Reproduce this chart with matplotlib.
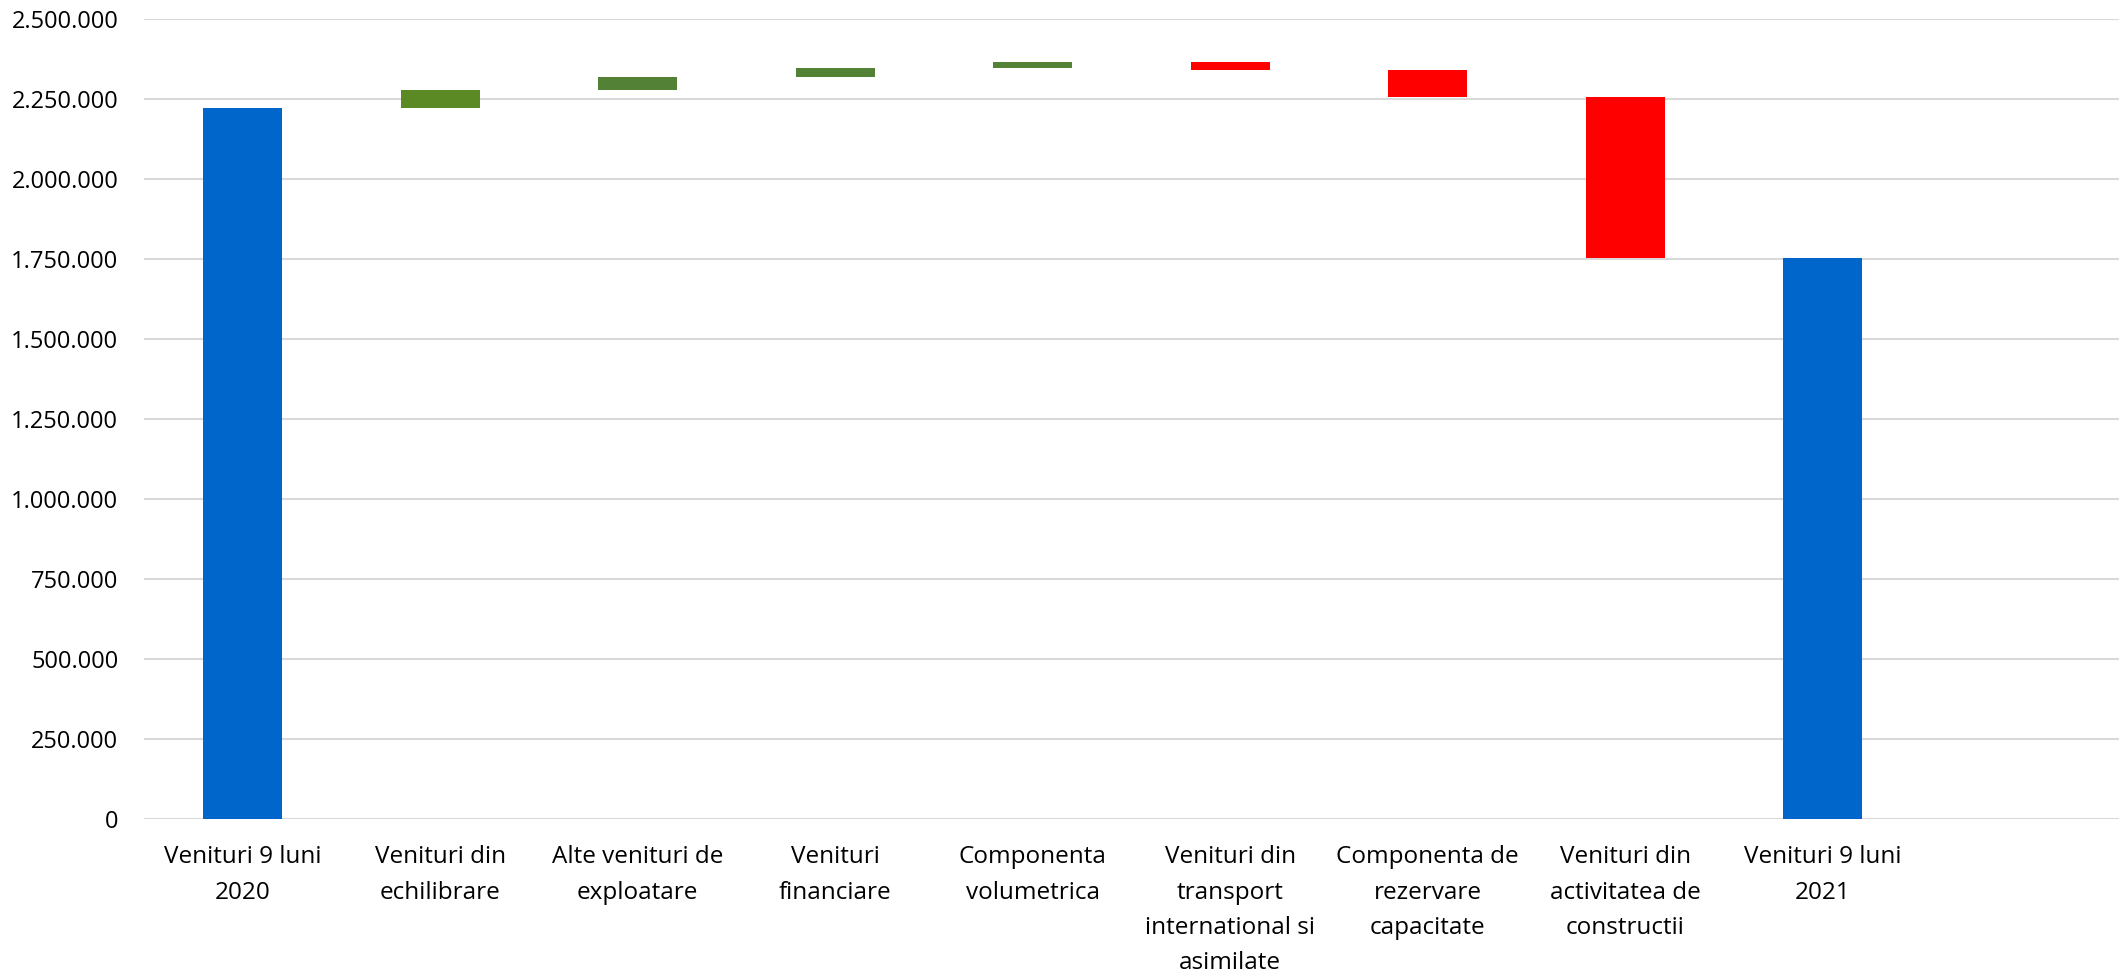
import matplotlib
matplotlib.use("Agg")
import matplotlib.pyplot as plt
from matplotlib.ticker import FuncFormatter

# ---- data ----
categories = [
    "Venituri 9 luni\n2020",
    "Venituri din\nechilibrare",
    "Alte venituri de\nexploatare",
    "Venituri\nfinanciare",
    "Componenta\nvolumetrica",
    "Venituri din\ntransport\ninternational si\nasimilate",
    "Componenta de\nrezervare\ncapacitate",
    "Venituri din\nactivitatea de\nconstructii",
    "Venituri 9 luni\n2021",
    "",
]
start_total = 2222000
changes = [56000, 41000, 28000, 19000, -25000, -85000, -502000]
end_total = 1754000
y_ticks = [0, 250000, 500000, 750000, 1000000, 1250000, 1500000, 1750000, 2000000, 2250000, 2500000]

# ---- styling ----
BLUE = "#0066CC"
GREEN_FIRST = "#5B8A24"
GREEN = "#538135"
RED = "#FF0000"
GRID = "#D9D9D9"

plt.rcParams["font.family"] = ["Open Sans", "DejaVu Sans"]

W, H, DPI = 2119, 977, 100
fig = plt.figure(figsize=(W / DPI, H / DPI), dpi=DPI)
ax = fig.add_axes([144 / W, 1 - 819 / H, (W - 144) / W, 800 / H])

# totals
ax.bar(0, start_total, width=0.4, color=BLUE, zorder=3)
level = start_total
for i, d in enumerate(changes, start=1):
    bottom = level if d >= 0 else level + d
    if d >= 0:
        col = GREEN_FIRST if i == 1 else GREEN
    else:
        col = RED
    ax.bar(i, abs(d), bottom=bottom, width=0.4, color=col, zorder=3)
    level += d
ax.bar(len(changes) + 1, end_total, width=0.4, color=BLUE, zorder=3)

ax.set_xlim(-0.5, len(categories) - 0.5)
ax.set_ylim(0, 2500000)
ax.set_yticks(y_ticks)
ax.yaxis.set_major_formatter(FuncFormatter(lambda v, p: f"{int(v):,}".replace(",", ".")))
ax.set_xticks(range(len(categories)))
ax.set_xticklabels(categories, fontsize=17.5, linespacing=1.62, va="top")

ax.tick_params(axis="y", length=0, pad=18.5, labelsize=17, labelcolor="#000000")
ax.tick_params(axis="x", length=0, pad=19, labelcolor="#000000")

for s in ["top", "right", "left", "bottom"]:
    ax.spines[s].set_visible(False)
ax.yaxis.grid(True, color=GRID, linewidth=1.5, zorder=0)
ax.set_axisbelow(True)

fig.savefig("out.png", dpi=DPI, facecolor="white")
